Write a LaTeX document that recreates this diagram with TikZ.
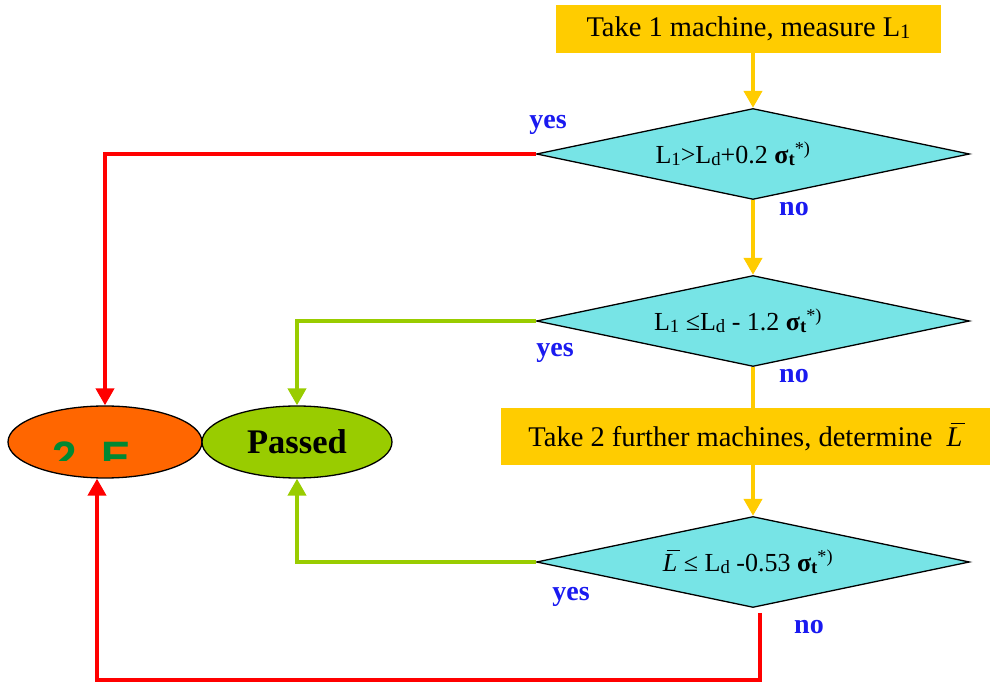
\documentclass[tikz,border=0pt]{standalone}
\usepackage{fontspec}
\setmainfont{Liberation Serif}
\newfontfamily\labsans{Liberation Sans}
\usetikzlibrary{shapes.geometric,arrows.meta,calc}
\definecolor{boxyel}{HTML}{FFCC00}
\definecolor{diacyan}{HTML}{77E4E6}
\definecolor{failor}{HTML}{FF6600}
\definecolor{passgr}{HTML}{99CC00}
\definecolor{linered}{HTML}{FF0000}
\definecolor{labblue}{HTML}{1A1AF0}
\definecolor{txtgreen}{HTML}{008833}
\newcommand{\mysub}[1]{\raisebox{-0.08em}{\scalebox{0.72}{#1}}}
\newcommand{\Lbar}{\leavevmode\rlap{\hspace{0.14em}\rule[0.8em]{0.5em}{0.05em}}\textit{L}}
\begin{document}
\begin{tikzpicture}[x=1pt,y=1pt,
  stepbox/.style={rectangle,fill=boxyel,inner sep=0pt,font=\fontsize{28.5}{32}\selectfont},
  decision/.style={diamond,aspect=4.76,draw=black,line width=1.3pt,fill=diacyan,inner sep=0pt,
     minimum width=433pt,minimum height=91pt,font=\fontsize{26}{30}\selectfont},
  endnode/.style={ellipse,draw=black,line width=1.3pt,inner sep=0pt,minimum width=194pt,minimum height=72pt},
  yflow/.style={draw=boxyel,line width=4pt,-{Triangle[length=17pt,width=18pt]}},
  redflow/.style={draw=linered,line width=4pt,-{Triangle[length=17pt,width=18pt]}},
  greenflow/.style={draw=passgr,line width=4pt,-{Triangle[length=17pt,width=18pt]}},
  lab/.style={text=labblue,font=\fontsize{28}{32}\selectfont\bfseries,inner sep=0pt}
]
\useasboundingbox (0,0) rectangle (991,683);

% boxes
\node[stepbox,minimum width=385pt,minimum height=48pt] (s1) at (748.5,654) {Take 1 machine, measure L\mysub{1}};
\node[stepbox,minimum width=489pt,minimum height=57pt] (s2) at (745.5,246) {Take 2 further machines, determine \ \Lbar};

% decisions
\node[decision] (d1) at (753,529) {L\mysub{1}>L\mysub{d}+0.2 {\bfseries σ\mysub{t}}\textsuperscript{*)}\hspace*{40pt}};
\node[decision] (d2) at (753,362) {L\mysub{1} ≤L\mysub{d} - 1.2 {\bfseries σ\mysub{t}}\textsuperscript{*)}\hspace*{30pt}};
\node[decision] (d3) at (753,121) {\Lbar{} ≤ L\mysub{d} -0.53 {\bfseries σ\mysub{t}}\textsuperscript{*)}\hspace*{10pt}};

% end nodes
\node[endnode,fill=failor] (fail) at (105,241) {};
\node[endnode,fill=passgr,minimum width=190pt] (pass) at (297,241) {\fontsize{34.5}{38}\selectfont\bfseries Passed};
\begin{scope}
  \clip (8,222) rectangle (202,250);
  \node[anchor=base,inner sep=0pt,text=txtgreen,font=\labsans\fontsize{44}{48}\selectfont\bfseries] (failtxt) at (91.5,210.5) {2 \ E};
\end{scope}

% yellow flow
\coordinate (s1a) at (753,630);
\draw[yflow] (s1a) -- (d1.north);
\draw[yflow] (d1.south) -- (d2.north);
\coordinate (s2top) at (753,274.5);
\draw[draw=boxyel,line width=4pt] (d2.south) -- (s2top);
\coordinate (s2bot) at (753,217.5);
\draw[yflow] (s2bot) -- (d3.north);

% yes/no flows
\draw[redflow] (d1.west) -| (fail.north);
\draw[greenflow] (d2.west) -| (pass.north);
\draw[greenflow] (d3.west) -| (pass.south);
\coordinate (r0) at (760,70);
\coordinate (r1) at (97,3);
\draw[redflow] (r0) |- (r1) -- (fail.south -| r1);

% labels
\node[lab] (y1) at (548,558) {yes};
\node[lab] (n1) at (794,474) {no};
\node[lab] (y2) at (555,330) {yes};
\node[lab] (n2) at (794,307) {no};
\node[lab] (y3) at (571,86) {yes};
\node[lab] (n3) at (809,56) {no};
\end{tikzpicture}
\end{document}
